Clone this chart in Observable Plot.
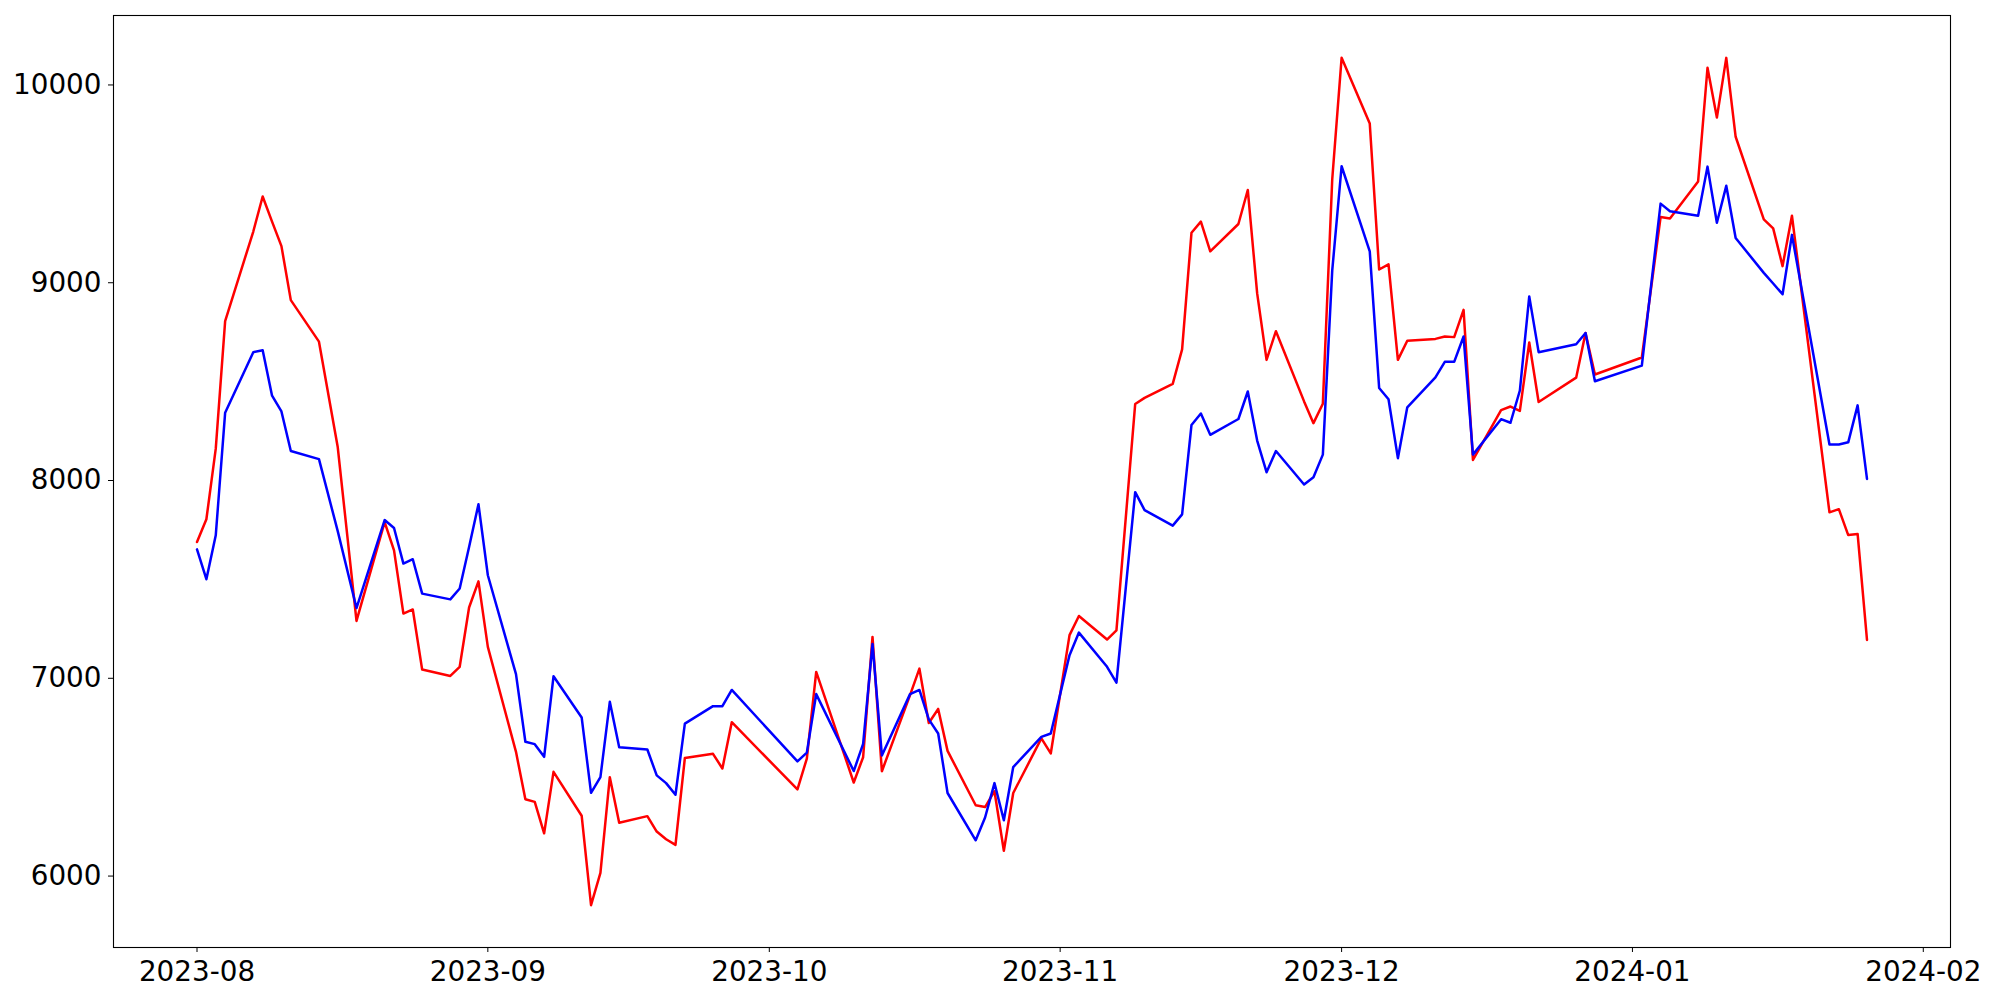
<!DOCTYPE html>
<html>
<head>
<meta charset="utf-8">
<script src="https://cdn.jsdelivr.net/npm/d3@7"></script>
<script src="https://cdn.jsdelivr.net/npm/@observablehq/plot@0.6"></script>
<style>
  html, body { margin: 0; padding: 0; background: #ffffff; }
  #chart svg { display: block; }
</style>
</head>
<body>
<div id="chart"></div>
<script>
// ---- data ----
const dates = [
  "2023-08-01","2023-08-02","2023-08-03","2023-08-04","2023-08-07","2023-08-08","2023-08-09","2023-08-10","2023-08-11",
  "2023-08-14","2023-08-16","2023-08-18","2023-08-21","2023-08-22","2023-08-23","2023-08-24","2023-08-25",
  "2023-08-28","2023-08-29","2023-08-30","2023-08-31","2023-09-01",
  "2023-09-04","2023-09-05","2023-09-06","2023-09-07","2023-09-08",
  "2023-09-11","2023-09-12","2023-09-13","2023-09-14","2023-09-15",
  "2023-09-18","2023-09-19","2023-09-20","2023-09-21","2023-09-22",
  "2023-09-25","2023-09-26","2023-09-27",
  "2023-10-04","2023-10-05","2023-10-06",
  "2023-10-10","2023-10-11","2023-10-12","2023-10-13",
  "2023-10-16","2023-10-17","2023-10-18","2023-10-19","2023-10-20",
  "2023-10-23","2023-10-24","2023-10-25","2023-10-26","2023-10-27",
  "2023-10-30","2023-10-31","2023-11-02","2023-11-03",
  "2023-11-06","2023-11-07","2023-11-09","2023-11-10",
  "2023-11-13","2023-11-14","2023-11-15","2023-11-16","2023-11-17",
  "2023-11-20","2023-11-21","2023-11-22","2023-11-23","2023-11-24",
  "2023-11-27","2023-11-28","2023-11-29","2023-11-30","2023-12-01",
  "2023-12-04","2023-12-05","2023-12-06","2023-12-07","2023-12-08",
  "2023-12-11","2023-12-12","2023-12-13","2023-12-14","2023-12-15",
  "2023-12-18","2023-12-19","2023-12-20","2023-12-21","2023-12-22",
  "2023-12-26","2023-12-27","2023-12-28",
  "2024-01-02","2024-01-04","2024-01-05",
  "2024-01-08","2024-01-09","2024-01-10","2024-01-11","2024-01-12",
  "2024-01-15","2024-01-16","2024-01-17","2024-01-18",
  "2024-01-22","2024-01-23","2024-01-24","2024-01-25","2024-01-26"
];

const redValues = [
  7689, 7804, 8161, 8806, 9259, 9436, 9309, 9185, 8912,
  8702, 8169, 7290, 7790, 7647, 7327, 7348, 7044,
  7012, 7058, 7358, 7490, 7159,
  6628, 6388, 6375, 6216, 6527,
  6305, 5853, 6016, 6500, 6270,
  6303, 6225, 6186, 6158, 6597,
  6618, 6544, 6778,
  6438, 6594, 7032,
  6473, 6601, 7209, 6530,
  6915, 7049, 6774, 6845, 6633,
  6358, 6349, 6429, 6128, 6420,
  6696, 6620, 7218, 7315,
  7196, 7242, 8387, 8418,
  8489, 8663, 9253, 9309, 9159,
  9297, 9469, 8946, 8610, 8755,
  8400, 8290, 8388, 9522, 10137,
  9805, 9067, 9093, 8610, 8707,
  8716, 8728, 8725, 8863, 8104,
  8356, 8374, 8352, 8698, 8397,
  8520, 8746, 8536,
  8622, 9332, 9325,
  9512, 10087, 9835, 10137, 9738,
  9320, 9275, 9084, 9339,
  7839, 7855, 7724, 7730, 7194
];

const blueValues = [
  7652, 7501, 7723, 8343, 8649, 8659, 8429, 8349, 8149,
  8108, 7744, 7355, 7800, 7760, 7580, 7602, 7428,
  7399, 7454, 7664, 7880, 7521,
  7021, 6679, 6667, 6603, 7010,
  6802, 6421, 6500, 6881, 6651,
  6640, 6509, 6470, 6411, 6771,
  6859, 6859, 6941,
  6580, 6624, 6920,
  6531, 6668, 7173, 6610,
  6920, 6941, 6792, 6721, 6420,
  6181, 6296, 6470, 6282, 6551,
  6704, 6721, 7117, 7231,
  7058, 6978, 7941, 7850,
  7772, 7829, 8281, 8339, 8231,
  8311, 8450, 8202, 8042, 8149,
  7980, 8016, 8131, 9061, 9589,
  9159, 8468, 8411, 8113, 8370,
  8521, 8600, 8600, 8728, 8131,
  8310, 8292, 8455, 8931, 8649,
  8689, 8746, 8502,
  8581, 9400, 9361,
  9339, 9587, 9303, 9490, 9226,
  9050, 8996, 8942, 9242,
  8182, 8182, 8193, 8380, 8008
];

const xTickLabels = ["2023-08-01","2023-09-01","2023-10-01","2023-11-01","2023-12-01","2024-01-01","2024-02-01"];
const yTickValues = [6000, 7000, 8000, 9000, 10000];

// ---- build the table ----
const parsed = dates.map(d => new Date(d + "T00:00:00Z"));
const redRows = parsed.map((d, i) => ({date: d, value: redValues[i]}));
const blueRows = parsed.map((d, i) => ({date: d, value: blueValues[i]}));

// matplotlib-style 5% autoscale margins
const [x0, x1] = d3.extent(parsed);
const xPad = (x1 - x0) * 0.05;
const allVals = redValues.concat(blueValues);
const [y0, y1] = d3.extent(allVals);
const yPad = (y1 - y0) * 0.05;

const chart = Plot.plot({
  width: 2000,
  height: 1000,
  marginLeft: 113,
  marginRight: 50,
  marginTop: 15,
  marginBottom: 53,
  style: {
    fontFamily: "'DejaVu Sans', sans-serif",
    fontSize: "27.8px",
    background: "#ffffff",
    color: "#000000"
  },
  x: {
    type: "utc",
    domain: [new Date(+x0 - xPad), new Date(+x1 + xPad)],
    ticks: xTickLabels.map(d => new Date(d + "T00:00:00Z")),
    tickFormat: d3.utcFormat("%Y-%m"),
    tickSize: 5,
    tickPadding: 9,
    label: null
  },
  y: {
    domain: [y0 - yPad, y1 + yPad],
    ticks: yTickValues,
    tickFormat: d3.format("d"),
    tickSize: 5,
    tickPadding: 7,
    label: null
  },
  marks: [
    Plot.frame({stroke: "#000000", strokeWidth: 1.1}),
    Plot.line(redRows, {x: "date", y: "value", stroke: "#ff0000", strokeWidth: 2.5, strokeLinejoin: "round"}),
    Plot.line(blueRows, {x: "date", y: "value", stroke: "#0000ff", strokeWidth: 2.5, strokeLinejoin: "round"})
  ]
});

document.getElementById("chart").appendChild(chart);
</script>
</body>
</html>
